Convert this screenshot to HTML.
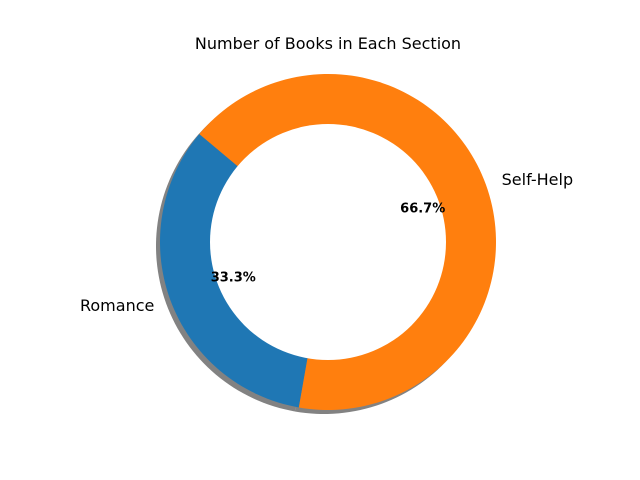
<!DOCTYPE html>
<html><head><meta charset="utf-8"><style>
body{margin:0;background:#fff;}
svg{display:block;font-family:"DejaVu Sans","Liberation Sans",sans-serif;}
</style></head><body>
<svg id="chart" width="640" height="480" viewBox="0 0 640 480">
<text x="328" y="49" text-anchor="middle" font-size="16">Number of Books in Each Section</text>
<g id="shadow"></g>
<g id="slices"></g>
<circle cx="328" cy="242" r="118" fill="#fff"></circle>
<g id="labels"></g>
</svg>
<script>
const categories = ["Romance", "Self-Help"];
const values = [1, 2];
const colors = ["#1f77b4", "#ff7f0e"];
const cx = 328, cy = 242, R = 168, r = 118, startAngle = 140;
const ns = "http://www.w3.org/2000/svg";
const total = values.reduce((a, b) => a + b, 0);
function pt(rad, deg, ox, oy) { const a = deg * Math.PI / 180; return [cx + ox + rad * Math.cos(a), cy + oy - rad * Math.sin(a)]; }
function wedgePath(a0, a1, ox, oy) {
  const large = (a1 - a0) > 180 ? 1 : 0;
  const p0 = pt(R, a0, ox, oy), p1 = pt(R, a1, ox, oy);
  return `M${cx + ox},${cy + oy} L${p0[0]},${p0[1]} A${R},${R} 0 ${large} 0 ${p1[0]},${p1[1]} Z`;
}
let a = startAngle;
const sg = document.getElementById("shadow"), slg = document.getElementById("slices"), lg = document.getElementById("labels");
values.forEach((v, i) => {
  const sweep = v / total * 360, a0 = a, a1 = a + sweep, mid = (a0 + a1) / 2;
  const sh = document.createElementNS(ns, "path");
  sh.setAttribute("d", wedgePath(a0, a1, -4, 4));
  sh.setAttribute("fill", "#4d4d4d"); sh.setAttribute("opacity", "0.7");
  
  
  sg.appendChild(sh);
  const p = document.createElementNS(ns, "path");
  p.setAttribute("d", wedgePath(a0, a1, 0, 0));
  p.setAttribute("fill", colors[i]);
  
  
  slg.appendChild(p);
  const lp = pt(R * 1.1, mid, 0, 0);
  const t = document.createElementNS(ns, "text");
  t.setAttribute("x", lp[0]); t.setAttribute("y", lp[1] + 6);
  t.setAttribute("font-size", "16");
  t.setAttribute("text-anchor", Math.cos(mid * Math.PI / 180) < 0 ? "end" : "start");
  t.textContent = categories[i];
  
  
  lg.appendChild(t);
  const pp = pt(R * 0.6, mid, 0, 0);
  const pt2 = document.createElementNS(ns, "text");
  pt2.setAttribute("x", pp[0]); pt2.setAttribute("y", pp[1] + 5);
  pt2.setAttribute("font-size", "13"); pt2.setAttribute("font-weight", "bold");
  pt2.setAttribute("text-anchor", "middle");
  pt2.textContent = (v / total * 100).toFixed(1) + "%";
  
  
  lg.appendChild(pt2);
  a = a1;
});
</script>
</body></html>
